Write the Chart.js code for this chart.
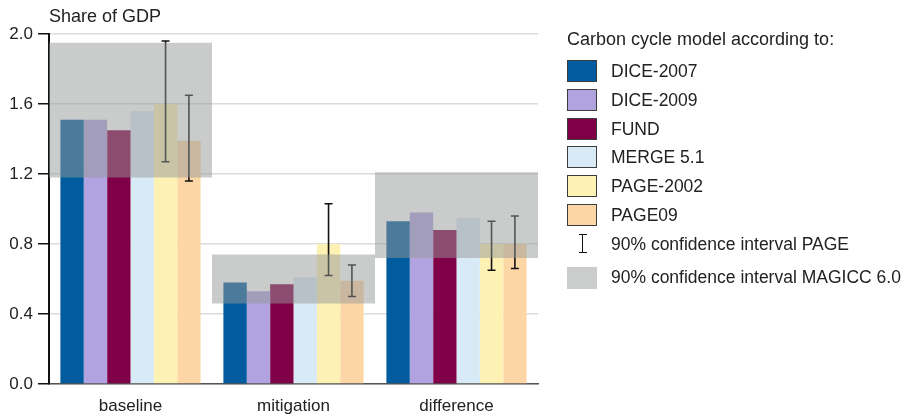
<!DOCTYPE html>
<html>
<head>
<meta charset="utf-8">
<script src="https://cdn.jsdelivr.net/npm/chart.js@4/dist/chart.umd.min.js"></script>
<style>
  html, body { margin: 0; padding: 0; background: #fff; }
  #wrap { position: relative; width: 915px; height: 418px; overflow: hidden;
          font-family: "Liberation Sans", Arial, Helvetica, sans-serif; color: #222; }
  #chart { position: absolute; left: 0; top: 0; }
  .lg { position: absolute; font-size: 17.5px; line-height: 20px; white-space: nowrap; }
  .sw { position: absolute; box-sizing: border-box; width: 30px; height: 22px; border: 1px solid #3c3c3c; }
  .eb { position: absolute; background: #111; }
</style>
</head>
<body>
<div id="wrap">
  <canvas id="chart" width="915" height="418"></canvas>
  <div id="legend"></div>
</div>
<script>
// Cost components (share of GDP)
const categories = ['baseline', 'mitigation', 'difference'];

const dice2007 = [1.51, 0.58, 0.93];
const dice2009 = [1.51, 0.53, 0.98];
const fund     = [1.45, 0.57, 0.88];
const merge51  = [1.56, 0.61, 0.95];
const page2002 = [1.60, 0.80, 0.80];
const page09   = [1.39, 0.59, 0.80];

// 90% confidence interval PAGE
const page2002Low  = [1.27, 0.62, 0.65];
const page2002High = [1.96, 1.03, 0.93];
const page09Low    = [1.16, 0.50, 0.66];
const page09High   = [1.65, 0.68, 0.96];

// 90% confidence interval MAGICC 6.0
const magiccLow  = [1.18, 0.46, 0.72];
const magiccHigh = [1.95, 0.74, 1.21];

const yTicks = [0, 0.4, 0.8, 1.2, 1.6, 2.0];

const seriesNames  = ['DICE-2007', 'DICE-2009', 'FUND', 'MERGE 5.1', 'PAGE-2002', 'PAGE09'];
const seriesValues = [dice2007, dice2009, fund, merge51, page2002, page09];
const seriesColors = ['#005c9e', '#b0a3e0', '#800048', '#d8eaf6', '#fef1b4', '#fdd6a6'];

const FONT = '"Liberation Sans", Arial, Helvetica, sans-serif';
const BAND_FILL = 'rgba(150,152,152,0.5)';

const overlays = {
  id: 'overlays',
  afterDatasetsDraw(chart) {
    const { ctx, scales: { x, y } } = chart;
    ctx.save();

    // PAGE error bars
    ctx.strokeStyle = '#111';
    ctx.lineWidth = 1.6;
    const cap = 4;
    [[4, page2002Low, page2002High], [5, page09Low, page09High]].forEach(([di, lo, hi]) => {
      chart.getDatasetMeta(di).data.forEach((bar, i) => {
        const cx = bar.x;
        const yl = y.getPixelForValue(lo[i]);
        const yh = y.getPixelForValue(hi[i]);
        ctx.beginPath();
        ctx.moveTo(cx, yl); ctx.lineTo(cx, yh);
        ctx.moveTo(cx - cap, yl); ctx.lineTo(cx + cap, yl);
        ctx.moveTo(cx - cap, yh); ctx.lineTo(cx + cap, yh);
        ctx.stroke();
      });
    });

    // MAGICC bands across each category
    const half = (x.getPixelForValue(1) - x.getPixelForValue(0)) / 2;
    ctx.fillStyle = BAND_FILL;
    categories.forEach((c, i) => {
      const cx = x.getPixelForValue(i);
      const top = y.getPixelForValue(magiccHigh[i]);
      const bot = y.getPixelForValue(magiccLow[i]);
      ctx.fillRect(cx - half, top, half * 2, bot - top);
    });

    // axis caption
    ctx.fillStyle = '#222';
    ctx.font = '18px ' + FONT;
    ctx.textAlign = 'left';
    ctx.textBaseline = 'alphabetic';
    ctx.fillText('Share of GDP', chart.chartArea.left, 22);
    ctx.restore();
  }
};

new Chart(document.getElementById('chart'), {
  type: 'bar',
  data: {
    labels: categories,
    datasets: seriesNames.map((name, i) => ({
      label: name,
      data: seriesValues[i],
      backgroundColor: seriesColors[i],
      borderWidth: 0,
      categoryPercentage: 0.86,
      barPercentage: 1.0
    }))
  },
  options: {
    responsive: false,
    animation: false,
    devicePixelRatio: 1,
    layout: { padding: { top: 34, right: 377, bottom: 0, left: 0 } },
    plugins: { legend: { display: false }, tooltip: { enabled: false }, title: { display: false } },
    scales: {
      x: {
        grid: { display: false, drawTicks: false },
        border: { display: true, color: '#555', width: 1.5 },
        ticks: { font: { family: FONT, size: 17 }, color: '#222', padding: 12 },
        afterFit: s => { s.height = 34; }
      },
      y: {
        min: 0, max: 2.0,
        afterBuildTicks: s => { s.ticks = yTicks.map(v => ({ value: v })); },
        grid: { color: '#dcdcdc', lineWidth: 1.5, tickLength: 11, tickColor: '#111', tickWidth: 1.5 },
        border: { display: true, color: '#111', width: 2 },
        ticks: { font: { family: FONT, size: 17 }, color: '#222', padding: 5,
                 callback: v => Number(v).toFixed(1) },
        afterFit: s => { s.width = 49; }
      }
    }
  },
  plugins: [overlays]
});

// legend
(function () {
  const lg = document.getElementById('legend');
  const add = (html) => { lg.insertAdjacentHTML('beforeend', html); };
  add('<div class="lg" style="left:567px;top:29px;font-size:18px">Carbon cycle model according to:</div>');
  seriesNames.forEach((name, i) => {
    const top = 60 + i * 28.8;
    add(`<div class="sw" style="left:567px;top:${top}px;background:${seriesColors[i]}"></div>`);
    add(`<div class="lg" style="left:611px;top:${top + 1}px">${name}</div>`);
  });
  // error bar key
  add('<div class="eb" style="left:582px;top:234px;width:1.3px;height:19px"></div>');
  add('<div class="eb" style="left:579px;top:234px;width:8px;height:1.3px"></div>');
  add('<div class="eb" style="left:579px;top:252px;width:8px;height:1.3px"></div>');
  add('<div class="lg" style="left:611px;top:234px">90% confidence interval PAGE</div>');
  // band key
  add('<div class="sw" style="left:567px;top:267px;border:none;background:#cbcccc"></div>');
  add('<div class="lg" style="left:611px;top:267px">90% confidence interval MAGICC 6.0</div>');
})();
</script>
</body>
</html>
